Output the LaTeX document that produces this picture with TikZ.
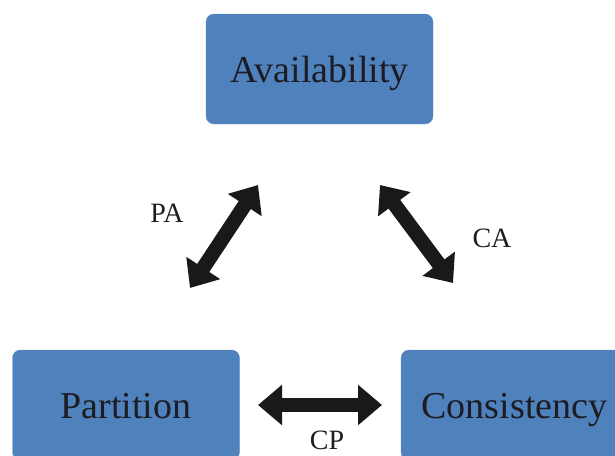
\documentclass[tikz,border=0pt]{standalone}
\usepackage{fontspec}
\setmainfont{Liberation Serif}
\usetikzlibrary{arrows.meta, positioning}

\definecolor{boxblue}{HTML}{4F81BD}
\definecolor{boxline}{HTML}{6A93C8}
\definecolor{textdark}{HTML}{1C1C22}

\begin{document}
\begin{tikzpicture}[x=1pt, y=-1pt, >={Triangle[length=24pt, width=39pt]}]
		\tikzstyle{box} = [draw=boxline, fill=boxblue, rounded corners=8pt, minimum width=227pt, minimum height=110pt, text height=30pt, text depth=4pt, font=\fontsize{38}{40}\selectfont, text=textdark]
		\tikzstyle{lbl} = [draw=none, font=\fontsize{28}{30}\selectfont, text=textdark]
		\tikzstyle{link} = [line width=14.5pt, <->, black!90]

		\useasboundingbox (0,0) rectangle (615,455);

		\node[box] 			at (319.5, 69) 		(avail) 	{Availability};
		\node[box] 			at (126, 405) 		(part) 		{Partition};
		\node[box] 			at (514.5, 405) 	(cons) 		{Consistency};

		\coordinate (pa1) at (190, 288);
		\coordinate (pa2) at (258, 185);
		\coordinate (ca1) at (380, 185);
		\coordinate (ca2) at (453, 283);
		\coordinate (cp1) at (258, 405);
		\coordinate (cp2) at (382, 405);

		\draw[link] (pa1) -- (pa2);
		\draw[link] (ca1) -- (ca2);
		\draw[link] (cp1) -- (cp2);

		\node[lbl]			at (167, 213)		(pa) 	{PA};
		\node[lbl]			at (492, 238)		(ca) 	{CA};
		\node[lbl]			at (327, 440)		(cp) 	{CP};
		\end{tikzpicture}
\end{document}
